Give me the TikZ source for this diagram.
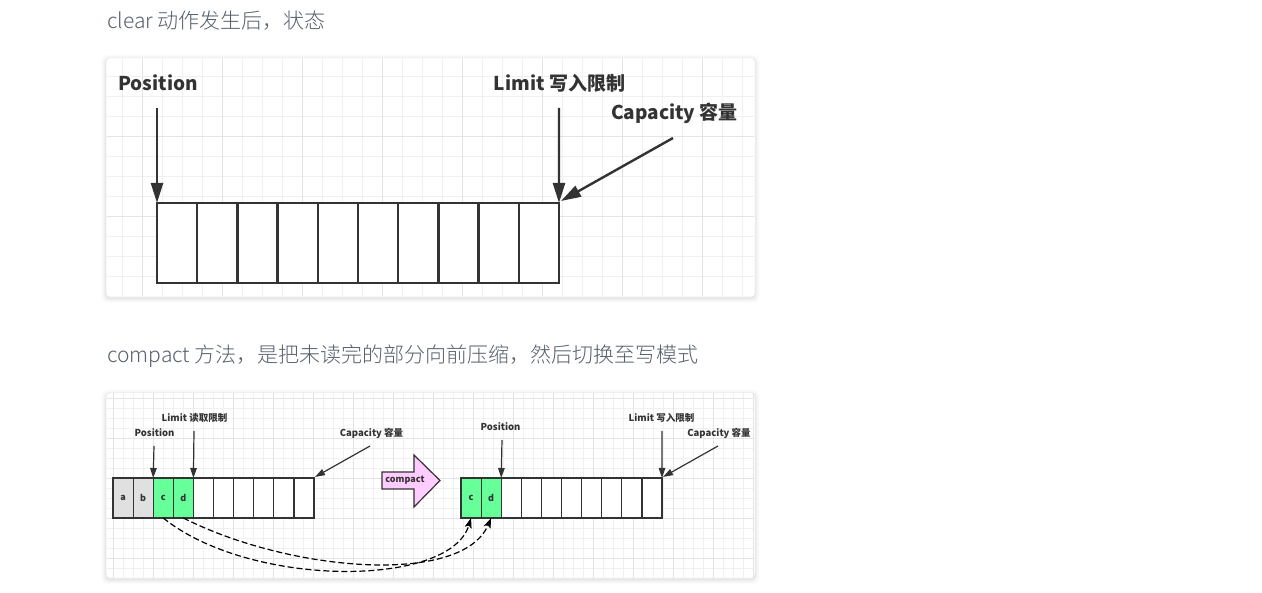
\documentclass[tikz,border=0pt]{standalone}
\usepackage{fontspec}
\setmainfont{Noto Sans CJK SC}
\newfontfamily\headfont{Noto Sans CJK SC Light}
\usetikzlibrary{arrows.meta}
\definecolor{ink}{HTML}{333333}
\definecolor{headc}{HTML}{56606C}
\definecolor{gmin}{HTML}{F0F0F0}
\definecolor{gmaj}{HTML}{E4E4E4}
\definecolor{cgray}{HTML}{E0E0E0}
\definecolor{cgreen}{HTML}{66FF99}
\definecolor{cpink}{HTML}{FFCCFF}
\definecolor{pborder}{HTML}{EBEBEB}
\tikzset{
  heading/.style={anchor=west,inner sep=0,text=headc,font=\headfont\fontsize{21}{24}\selectfont},
  lblT/.style={inner sep=0,text=ink,font=\bfseries\fontsize{19}{22}\selectfont},
  lblB/.style={inner sep=0,text=ink,font=\bfseries\fontsize{9.5}{11}\selectfont},
  cellT/.style={draw=ink,line width=2.4pt,fill=white,minimum width=40.2pt,minimum height=80pt,inner sep=0,outer sep=0,anchor=north west},
  cellB/.style={draw=ink,line width=1.2pt,minimum width=20.1pt,minimum height=40pt,inner sep=0,outer sep=0,anchor=north west,text=ink,font=\bfseries\fontsize{9}{10}\selectfont},
  arrT/.style={draw=ink,line width=2.4pt,-{Triangle[length=20pt,width=12pt]}},
  arrB/.style={draw=ink,line width=1.2pt,-{Triangle[length=10pt,width=6.5pt]}},
  dashcurve/.style={draw=black,line width=1.2pt,dash pattern=on 6pt off 3pt,-{Stealth[length=10pt,width=7pt,inset=2pt]}},
  panel/.style={fill=white,draw=pborder,line width=0.5pt,rounded corners=4pt},
  gminor/.style={draw=gmin,line width=0.8pt},
  gmajor/.style={draw=gmaj,line width=0.9pt}
}
\begin{document}
\begin{tikzpicture}[x=1pt,y=-1pt]
\useasboundingbox (0,0) rectangle (1262,593);
\fill[white] (0,0) rectangle (1262,593);

% headings
\node[heading] (h1) at (107,21) {clear 动作发生后，状态};
\node[heading] (h2) at (107,356) {compact 方法，是把未读完的部分向前压缩，然后切换至写模式};

% shadows
\foreach \i/\o in {5/0.008,4/0.012,3/0.016,2/0.022,1/0.03}{
  \fill[black,opacity=\o,rounded corners=5pt] (106-\i,58-\i+1.5) rectangle (755+\i,297+\i+1.5);
  \fill[black,opacity=\o,rounded corners=5pt] (106-\i,393-\i+1.5) rectangle (755+\i,578+\i+1.5);
}
% top panel
\draw[panel] (106,58) rectangle (755,297);
\begin{scope}
\clip (107,59) rectangle (754,296);
\foreach \x in {122.7,142.7,...,742.7} \draw[gminor] (\x,58) -- (\x,297);
\foreach \y in {76.7,96.7,...,296.7} \draw[gminor] (106,\y) -- (755,\y);
\foreach \x in {142.7,222.7,...,702.7} \draw[gmajor] (\x,58) -- (\x,297);
\foreach \y in {136.7,216.7} \draw[gmajor] (106,\y) -- (755,\y);
\end{scope}

% top cells
\foreach \i in {1,...,10}
  \node[cellT] (t\i) at ({157+(\i-1)*40.2},203) {};

\node[lblT] (posT) at (158,83) {Position};
\node[lblT] (limT) at (559.5,83) {Limit 写入限制};
\node[lblT] (capT) at (674.5,113) {Capacity 容量};
\coordinate (posTs) at (157,108);
\coordinate (limTs) at (559,108);
\coordinate (capTs) at (673,138);
\draw[arrT] (posTs) -- (t1.north west);
\draw[arrT] (limTs) -- (t10.north east);
\draw[arrT] (capTs) -- ([xshift=2pt,yshift=2pt]t10.north east);

% bottom panel
\draw[panel] (106,393) rectangle (755,578);
\begin{scope}
\clip (107,394) rectangle (754,577);
\foreach \x in {113,123,...,753} \draw[gminor,line width=0.6pt] (\x,393) -- (\x,578);
\foreach \y in {398,408,...,578} \draw[gminor,line width=0.6pt] (106,\y) -- (755,\y);
\foreach \x in {113,153,...,753} \draw[gmajor,line width=0.7pt] (\x,393) -- (\x,578);
\foreach \y in {398,438,...,558} \draw[gmajor,line width=0.7pt] (106,\y) -- (755,\y);
\end{scope}

% bottom-left cells
\foreach \i/\f/\t in {1/cgray/a,2/cgray/b,3/cgreen/c,4/cgreen/d,5/white/,6/white/,7/white/,8/white/,9/white/,10/white/}
  \node[cellB,fill=\f] (b\i) at ({113+(\i-1)*20.1},478) {\t};
% bottom-right cells
\foreach \i/\f/\t in {1/cgreen/c,2/cgreen/d,3/white/,4/white/,5/white/,6/white/,7/white/,8/white/,9/white/,10/white/}
  \node[cellB,fill=\f] (r\i) at ({461+(\i-1)*20.1},478) {\t};

\node[lblB] (limL) at (194.5,418) {Limit 读取限制};
\node[lblB] (posL) at (154.5,433) {Position};
\node[lblB] (capL) at (371.5,433) {Capacity 容量};
\coordinate (posLs) at (154,446);
\coordinate (limLs) at (194,431);
\coordinate (capLs) at (370,446);
\draw[arrB] (posLs) -- (b3.north west);
\draw[arrB] (limLs) -- (b5.north west);
\draw[arrB] (capLs) -- ([xshift=1pt,yshift=1pt]b10.north east);

\node[lblB] (posR) at (500.5,427) {Position};
\node[lblB] (limR) at (661.5,418) {Limit 写入限制};
\node[lblB] (capR) at (719,433) {Capacity 容量};
\coordinate (posRs) at (502,440);
\coordinate (limRs) at (662,431);
\coordinate (capRs) at (718,446);
\draw[arrB] (posRs) -- (r3.north west);
\draw[arrB] (limRs) -- (r10.north east);
\draw[arrB] (capRs) -- ([xshift=1pt,yshift=1pt]r10.north east);

% compact arrow
\draw[fill=cpink,draw=ink,line width=1.2pt,line join=miter]
  (382,472) -- (414,472) -- (414,455) -- (440,480.5) -- (414,507) -- (414,489) -- (382,489) -- cycle;
\node[lblB,font=\bfseries\fontsize{9}{10}\selectfont] (cmp) at (405,480) {compact};

% dashed moves
\draw[dashcurve] (b3.south) .. controls (250,588) and (450,588) .. (r1.south);
\draw[dashcurve] (b4.south) .. controls (290,572) and (462,586) .. (r2.south);
\end{tikzpicture}
\end{document}
